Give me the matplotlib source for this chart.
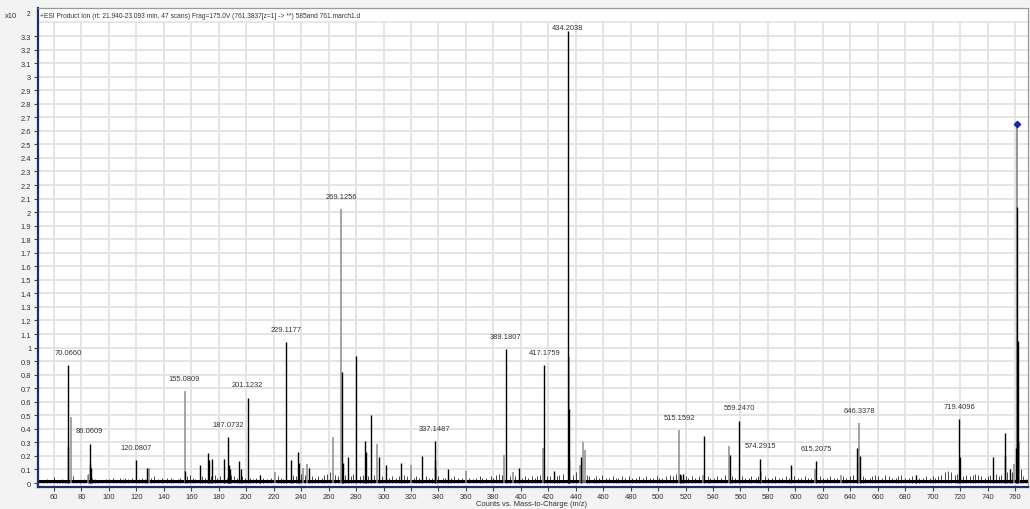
"""ESI product-ion spectrum of m/z 761.3837 (rt 21.940-23.093 min)."""
import matplotlib

matplotlib.use("Agg")
import matplotlib.pyplot as plt
import numpy as np

plt.rcParams["font.family"] = ["Liberation Sans", "DejaVu Sans"]

TITLE = ("+ESI Product Ion (rt: 21.940-23.093 min, 47 scans) Frag=175.0V "
         "(761.3837[z=1] -> **) 585and 761.march1.d")

# labelled peaks (intensity in units of x10^2 counts)
label_mz = [70.0660, 86.0609, 120.0807, 155.0809, 187.0732, 201.1232,
            229.1177, 269.1256, 337.1487, 389.1807, 417.1759, 434.2038,
            515.1592, 559.2470, 574.2915, 615.2075, 646.3378, 719.4096]
label_int = [0.87, 0.29, 0.17, 0.68, 0.34, 0.63,
             1.04, 2.02, 0.31, 0.99, 0.87, 3.34,
             0.39, 0.46, 0.18, 0.16, 0.44, 0.47]
label_grey = [False, False, False, True, False, False,
              False, True, False, False, False, False,
              True, False, False, False, True, False]

# precursor
prec_mz = 761.3837
prec_int = 2.65

# other (unlabelled) fragment peaks
minor_mz = [70.4, 72.3, 84.5, 86.4, 86.8, 127.5, 129.0, 155.4, 166.0, 172.0,
            172.6, 175.3, 184.0, 187.6, 188.2, 194.5, 196.0, 210.0, 221.0,
            232.4, 238.0, 238.5, 241.0, 244.0, 246.0, 263.0, 270.0, 270.5,
            274.3, 280.0, 286.6, 287.2, 291.0, 295.3, 296.5, 301.8, 312.7,
            319.8, 328.0, 337.6, 338.5, 347.0, 360.0, 388.0, 394.0, 399.0,
            416.0, 424.0, 434.8, 435.1, 435.4, 443.0, 444.0, 445.3, 446.4,
            515.6, 518.0, 533.0, 533.5, 551.6, 552.0, 575.0, 596.8, 614.5,
            633.0, 645.2, 647.0, 688.0, 720.0, 744.0, 752.3, 753.0, 756.5,
            759.5, 760.5, 761.2, 762.3, 762.8]
minor_int = [0.27, 0.49, 0.06, 0.14, 0.11, 0.11, 0.11, 0.09, 0.13, 0.22,
             0.17, 0.18, 0.18, 0.13, 0.10, 0.16, 0.10, 0.06, 0.08,
             0.17, 0.23, 0.15, 0.11, 0.14, 0.11, 0.34, 0.82, 0.15,
             0.19, 0.94, 0.31, 0.23, 0.50, 0.29, 0.19, 0.13, 0.15,
             0.13, 0.20, 0.17, 0.10, 0.10, 0.09, 0.21, 0.08, 0.11,
             0.26, 0.09, 0.93, 0.55, 0.17, 0.13, 0.19, 0.30, 0.24,
             0.07, 0.07, 0.06, 0.35, 0.27, 0.21, 0.09, 0.13, 0.10,
             0.06, 0.26, 0.20, 0.06, 0.19, 0.19, 0.37, 0.20, 0.10,
             0.14, 0.26, 2.04, 1.05, 0.30]
minor_grey = [False, True, True, False, False, False, True, False, False, False,
              False, False, False, False, False, False, False, False, True,
              False, False, False, True, True, False, True, False, False,
              False, False, False, False, False, True, False, False, False,
              True, False, False, True, False, True, True, True, False,
              True, False, True, False, False, True, False, True, True,
              False, False, True, False, True, False, True, False, True,
              True, False, False, False, False, False, False, False, False,
              True, False, False, False, True]

# baseline chemical noise
noise_mz = [52, 55, 57, 60, 62, 64, 66, 68, 74, 76, 79, 82, 85, 88, 90, 92,
            95, 98, 100, 103, 105, 108, 110, 112, 114, 117, 122, 124, 126,
            131, 133, 136, 139, 142, 145, 147, 150, 152, 157, 159, 161, 163,
            168, 170, 174, 177, 179, 181, 186, 189, 191, 193, 197, 199, 203,
            205, 207, 210, 212, 215, 218, 223, 225, 227, 234, 236, 240, 243,
            248, 250, 252, 255, 257, 259, 261, 265, 267, 272, 276, 278, 283,
            285, 289, 293, 299, 304, 306, 309, 311, 315, 317, 322, 324, 326,
            331, 333, 335, 340, 343, 345, 349, 351, 354, 357, 362, 365, 367,
            370, 372, 375, 378, 380, 382, 384, 386, 392, 396, 401, 403, 405,
            408, 410, 412, 414, 419, 421, 426, 428, 431, 438, 440, 448, 450,
            453, 455, 457, 459, 462, 464, 467, 469, 471, 474, 476, 479, 481,
            484, 486, 489, 491, 494, 496, 499, 501, 503, 506, 509, 511, 513,
            517, 520, 522, 525, 527, 530, 536, 538, 541, 543, 546, 549, 554,
            556, 561, 563, 566, 568, 571, 573, 578, 580, 583, 585, 588, 590,
            593, 595, 599, 602, 604, 607, 609, 611, 618, 620, 623, 625, 628,
            630, 635, 637, 640, 642, 649, 651, 654, 656, 658, 660, 663, 665,
            668, 670, 673, 675, 677, 680, 683, 685, 688, 690, 693, 695, 698,
            700, 702, 704, 706, 709, 711, 713, 716, 718, 722, 724, 727, 729,
            731, 733, 735, 738, 740, 742, 746, 748, 750, 754, 756, 758, 764,
            766, 768]
noise_int = [0.02, 0.03, 0.02, 0.045, 0.02, 0.025, 0.03, 0.02, 0.05, 0.02,
             0.02, 0.03, 0.07, 0.04, 0.03, 0.02, 0.025, 0.03, 0.03, 0.04,
             0.025, 0.035, 0.03, 0.04, 0.03, 0.04, 0.03, 0.04, 0.03, 0.04,
             0.05, 0.03, 0.04, 0.035, 0.04, 0.03, 0.03, 0.04, 0.05, 0.06,
             0.04, 0.03, 0.05, 0.04, 0.05, 0.06, 0.04, 0.05, 0.04, 0.06,
             0.05, 0.04, 0.05, 0.04, 0.04, 0.03, 0.04, 0.06, 0.04, 0.03,
             0.04, 0.05, 0.04, 0.03, 0.06, 0.05, 0.07, 0.06, 0.05, 0.04,
             0.05, 0.04, 0.06, 0.07, 0.08, 0.06, 0.05, 0.06, 0.05, 0.07,
             0.05, 0.06, 0.05, 0.06, 0.05, 0.04, 0.05, 0.04, 0.05, 0.06,
             0.05, 0.04, 0.05, 0.04, 0.05, 0.04, 0.04, 0.05, 0.04, 0.04,
             0.04, 0.05, 0.04, 0.04, 0.04, 0.03, 0.04, 0.05, 0.04, 0.04,
             0.05, 0.04, 0.06, 0.07, 0.06, 0.05, 0.05, 0.04, 0.05, 0.04,
             0.05, 0.04, 0.05, 0.06, 0.05, 0.05, 0.05, 0.06, 0.07, 0.06,
             0.08, 0.06, 0.05, 0.04, 0.05, 0.04, 0.06, 0.04, 0.04, 0.05,
             0.04, 0.04, 0.05, 0.04, 0.05, 0.04, 0.04, 0.05, 0.04, 0.05,
             0.04, 0.04, 0.05, 0.04, 0.04, 0.05, 0.06, 0.05, 0.07, 0.06,
             0.05, 0.04, 0.05, 0.04, 0.05, 0.05, 0.04, 0.04, 0.05, 0.04,
             0.06, 0.05, 0.04, 0.05, 0.04, 0.04, 0.05, 0.04, 0.05, 0.05,
             0.04, 0.04, 0.05, 0.04, 0.04, 0.05, 0.04, 0.05, 0.04, 0.04,
             0.05, 0.04, 0.04, 0.05, 0.04, 0.04, 0.05, 0.04, 0.04, 0.05,
             0.04, 0.05, 0.06, 0.05, 0.04, 0.04, 0.05, 0.06, 0.05, 0.04,
             0.06, 0.05, 0.04, 0.04, 0.05, 0.06, 0.04, 0.04, 0.05, 0.06,
             0.04, 0.04, 0.05, 0.04, 0.05, 0.04, 0.05, 0.06, 0.08, 0.09,
             0.08, 0.06, 0.07, 0.05, 0.06, 0.05, 0.06, 0.07, 0.06, 0.05,
             0.04, 0.05, 0.06, 0.07, 0.05, 0.06, 0.08, 0.10, 0.08, 0.10,
             0.05, 0.03]

x_ticks = np.arange(60, 761, 20)
y_ticks = np.round(np.arange(0, 3.31, 0.1), 1)

NAVY = "#1c2f6b"
GREY_PEAK = "#8c8c8c"
GRID = "#e2e2e2"
TXT = "#333333"
FS = 5.4

fig = plt.figure(figsize=(10.3, 5.1), dpi=100, facecolor="#f3f3f3")
ax = fig.add_axes([37.5 / 1030, 22 / 510, 990.5 / 1030, 479 / 510])
ax.set_facecolor("white")

ax.set_xlim(47.98, 769.4)
ax.set_ylim(-0.0295, 3.507)

# grid + blank title band
ax.set_axisbelow(True)
ax.grid(True, color=GRID, lw=1.3)
ax.axhline(3.4, color=GRID, lw=1.3, zorder=0.5)
ax.axhspan(3.415, 3.6, color="white", zorder=1)

# spectrum
ax.vlines(noise_mz, 0, noise_int, colors="black", lw=0.5, zorder=2)
ax.axhline(0.012, color="black", lw=2.2, zorder=2)

mm = np.array(minor_mz)
mi = np.array(minor_int)
mg = np.array(minor_grey)
ax.vlines(mm[mg], 0, mi[mg], colors=GREY_PEAK, lw=1.1, zorder=2)

lm = np.array(label_mz)
li = np.array(label_int)
lg = np.array(label_grey)
ax.vlines(lm[lg], 0, li[lg], colors=GREY_PEAK, lw=1.1, zorder=2)
ax.vlines([prec_mz], 0, [prec_int], colors=GREY_PEAK, lw=1.3, zorder=2)

ax.vlines(mm[~mg], 0, mi[~mg], colors="black", lw=1.0, zorder=3)
ax.vlines(lm[~lg], 0, li[~lg], colors="black", lw=1.0, zorder=3)

ax.plot([prec_mz], [prec_int], marker="D", ms=3.2, color="#1a2ab0",
        zorder=4, ls="none")

for m, h in zip(label_mz, label_int):
    ax.text(m, min(h + 0.095, 3.36), f"{m:.4f}", ha="center", va="center",
            fontsize=FS, color=TXT, zorder=5)

# axes styling
ax.set_xticks(x_ticks)
ax.set_xticklabels([str(v) for v in x_ticks])
ax.set_yticks(y_ticks)
ax.set_yticklabels([f"{v:g}" for v in y_ticks])
ax.tick_params(axis="both", labelsize=FS, labelcolor=TXT, color="#444444",
               length=3, width=0.8, pad=1.5)
for s in ("left", "bottom"):
    ax.spines[s].set_color(NAVY)
    ax.spines[s].set_linewidth(1.6)
for s in ("top", "right"):
    ax.spines[s].set_color("#9a9a9a")
    ax.spines[s].set_linewidth(0.9)

fig.text(40 / 1030, 1 - 16 / 510, TITLE, fontsize=4.8, color=TXT,
         ha="left", va="center")
fig.text(5 / 1030, 1 - 17 / 510, "x10", fontsize=FS, color=TXT,
         ha="left", va="center")
fig.text(27 / 1030, 1 - 14 / 510, "2", fontsize=FS - 0.6, color=TXT,
         ha="left", va="center")
fig.text(531 / 1030, 1 - 505 / 510, "Counts vs. Mass-to-Charge (m/z)",
         fontsize=FS, color=TXT, ha="center", va="center")

fig.savefig("out.png", dpi=100, facecolor=fig.get_facecolor())
